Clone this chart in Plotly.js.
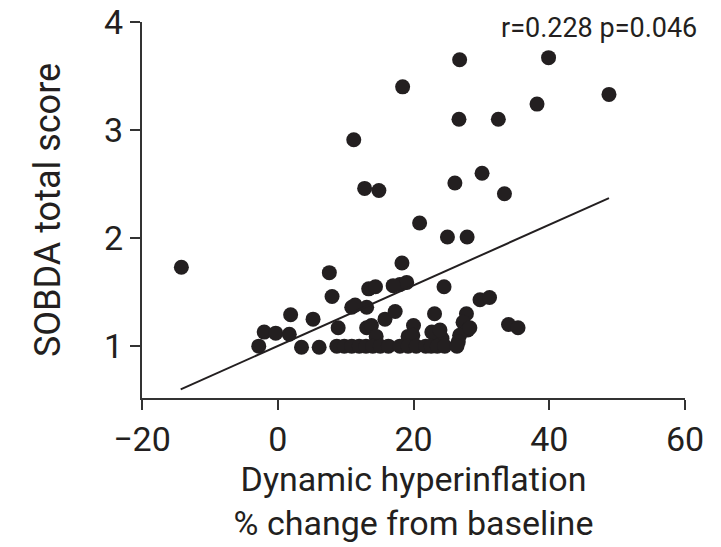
<!DOCTYPE html>
<html>
<head>
<meta charset="utf-8">
<script src="https://cdn.plot.ly/plotly-3.0.1.min.js"></script>
<style>
html,body{margin:0;padding:0;background:#fff;}
#chart{width:721px;height:547px;}
</style>
</head>
<body>
<div id="chart"></div>
<script>
// Scatter data: dynamic hyperinflation (% change from baseline) vs SOBDA total score
const hyperinflation = [
  -14.2, 7.6, 11.2, 12.8, 14.9, 18.4, 20.9, 25.0, 27.9, 26.1,
  26.7, 26.8, 30.1, 32.5, 33.4, 38.2, 39.9, 48.8, 18.3,
  -2.8, -2.0, -0.3, 1.7, 1.9, 3.5, 5.2, 6.1, 8.0, 8.9,
  10.9, 13.1, 13.4, 14.4, 13.1, 13.8, 14.5, 15.8, 17.3, 18.0,
  19.0, 24.5, 20.0, 23.1, 19.2, 23.4, 24.2, 27.8, 27.3, 28.0,
  26.8, 26.6, 29.8, 31.2, 34.0, 35.4, 22.7, 23.9, 19.9,
  8.7, 9.8, 10.9, 12.0, 13.0, 14.0, 15.1, 16.3, 18.0, 19.2,
  20.4, 21.8, 22.6, 23.5, 24.6, 26.4, 11.4, 17.0, 28.3
];
const sobdaScore = [
  1.73, 1.68, 2.91, 2.46, 2.44, 3.40, 2.14, 2.01, 2.01, 2.51,
  3.10, 3.65, 2.60, 3.10, 2.41, 3.24, 3.67, 3.33, 1.77,
  1.00, 1.13, 1.12, 1.11, 1.29, 0.99, 1.25, 0.99, 1.46, 1.17,
  1.36, 1.36, 1.53, 1.55, 1.17, 1.19, 1.09, 1.25, 1.32, 1.57,
  1.59, 1.55, 1.19, 1.30, 1.09, 1.07, 1.07, 1.30, 1.22, 1.15,
  1.10, 1.04, 1.43, 1.45, 1.20, 1.17, 1.13, 1.15, 1.10,
  1.00, 1.00, 1.00, 1.00, 1.00, 1.00, 1.00, 1.00, 1.00, 1.00,
  1.00, 1.00, 1.00, 1.00, 1.00, 1.00, 1.38, 1.56, 1.17
];
// Regression line end points
const fitX = [-14.3, 48.8];
const fitY = [0.60, 2.37];
// Axis ticks
const xTicks = [-20, 0, 20, 40, 60];
const yTicks = [1, 2, 3, 4];
const statText = "r=0.228 p=0.046";

const ink = "#231f20";
const fontFam = "Roboto, 'DejaVu Sans', sans-serif";

const traces = [
  {
    type: "scatter", mode: "markers",
    x: hyperinflation, y: sobdaScore,
    marker: {color: ink, size: 15, line: {width: 0}},
    showlegend: false, hoverinfo: "x+y"
  },
  {
    type: "scatter", mode: "lines",
    x: fitX, y: fitY,
    line: {color: ink, width: 2},
    showlegend: false, hoverinfo: "skip"
  }
];

const layout = {
  width: 721, height: 547,
  margin: {l: 142, r: 36, t: 22, b: 149},
  paper_bgcolor: "#fff", plot_bgcolor: "#fff",
  font: {family: fontFam, color: ink, size: 30},
  xaxis: {
    range: [-20, 60], tickvals: xTicks,
    showline: true, linecolor: "#333", linewidth: 2,
    ticks: "outside", ticklen: 10, tickwidth: 2, tickcolor: "#333",
    showgrid: false, zeroline: false,
    tickfont: {size: 34, family: fontFam, color: ink},
    title: {text: "Dynamic hyperinflation<br>% change from baseline", font: {size: 34, family: fontFam, color: ink}, standoff: 8}
  },
  yaxis: {
    range: [0.52, 4], tickvals: yTicks,
    showline: true, linecolor: "#333", linewidth: 2,
    ticks: "outside", ticklen: 10, tickwidth: 2, tickcolor: "#333",
    showgrid: false, zeroline: false,
    tickfont: {size: 34, family: fontFam, color: ink},
    title: {text: "SOBDA total score", font: {size: 36, family: fontFam, color: ink}, standoff: 32}
  },
  annotations: [{
    text: statText, xref: "paper", yref: "paper",
    x: 1.025, y: 0.985, xanchor: "right", yanchor: "middle",
    showarrow: false, font: {size: 27, family: fontFam, color: ink}
  }]
};

Plotly.newPlot("chart", traces, layout, {displayModeBar: false, staticPlot: true});
</script>
</body>
</html>
